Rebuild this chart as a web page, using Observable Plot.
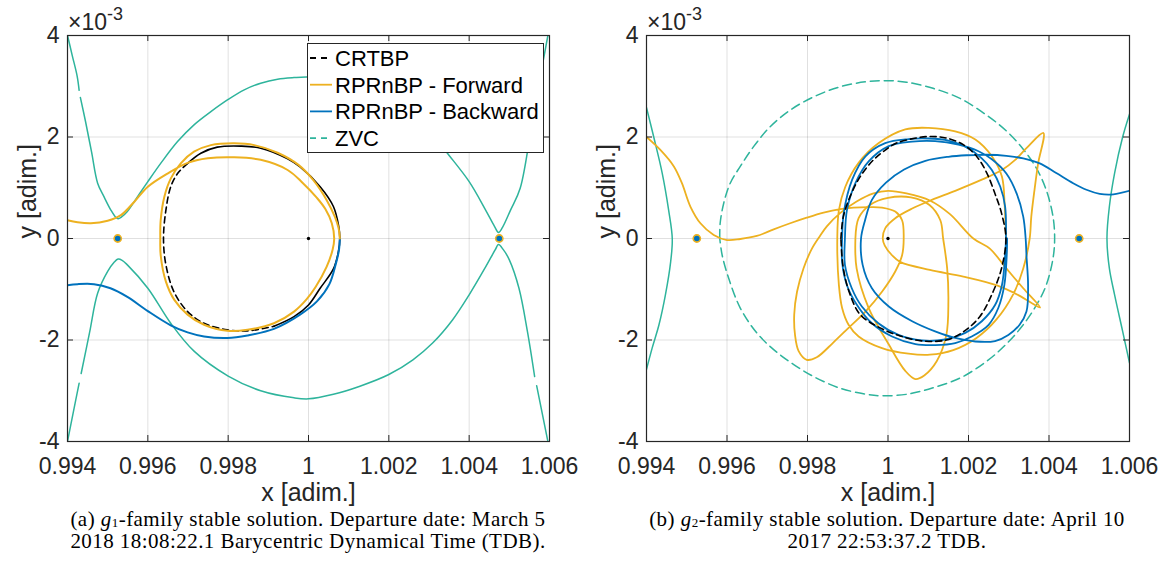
<!DOCTYPE html>
<html><head><meta charset="utf-8">
<script src="https://cdn.jsdelivr.net/npm/d3@7"></script>
<script src="https://cdn.jsdelivr.net/npm/@observablehq/plot@0.6"></script>
<style>
body{margin:0;background:#fff;}
#wrap{position:relative;width:1174px;height:571px;overflow:hidden;background:#fff;}
.panel{position:absolute;top:0;}
.cap{position:absolute;top:508px;font-family:"Liberation Serif","DejaVu Serif",serif;font-size:21px;letter-spacing:0.45px;line-height:22px;text-align:center;color:#000;white-space:nowrap;}
.cap sub{font-size:13px;position:relative;top:1px;vertical-align:baseline;line-height:0;}
</style></head><body>
<div id="wrap">
  <div id="pa" class="panel" style="left:0px"></div>
  <div id="pb" class="panel" style="left:580px"></div>
  <div class="cap" style="left:0px;width:616px">(a) <i>g</i><sub>1</sub>-family stable solution. Departure date: March 5<br>2018 18:08:22.1 Barycentric Dynamical Time (TDB).</div>
  <div class="cap" style="left:580px;width:614px">(b) <i>g</i><sub>2</sub>-family stable solution. Departure date: April 10<br>2017 22:53:37.2 TDB.</div>
</div>
<script>
// ---------- shared ----------
const xTicks = [0.994, 0.996, 0.998, 1, 1.002, 1.004, 1.006];
const yTicks = [-4, -2, 0, 2, 4];
const xLabel = "x [adim.]";
const yLabel = "y [adim.]";
const lagrangePts = [[0.99525, 0], [1.00475, 0]];
const primaryPt = [[1, 0]];
const legendLabels = ["CRTBP", "RPRnBP - Forward", "RPRnBP - Backward", "ZVC"];

const ORANGE = "#EDB120", BLUE = "#0072BD", ZVC = "#2EB49C", BLACK = "#000000";

// ---------- panel (a) data ----------
const aZvcUpper1 = [[0.994,4.0],[0.99412,3.6],[0.99424,3.2],[0.99429,2.92]];
const aZvcUpper2 = [[0.99432,2.78],[0.99445,2.3],[0.9946,1.7],[0.99475,1.09],[0.99491,0.82],[0.99508,0.56],[0.9952,0.42],[0.99526,0.39],[0.99534,0.42],[0.99549,0.53],[0.99574,0.82],[0.996,1.12],[0.99632,1.48],[0.99674,1.91],[0.99715,2.24],[0.99757,2.5],[0.998,2.74],[0.9984,2.93],[0.99881,3.06],[0.99923,3.14],[0.99964,3.17],[1.0,3.18],[1.00062,3.13],[1.00128,2.97],[1.002,2.73],[1.0026,2.43],[1.00309,2.07],[1.00342,1.72],[1.004,1.12],[1.00441,0.56],[1.00463,0.24],[1.00473,0.12],[1.00483,0.22],[1.00503,0.56],[1.00527,0.99],[1.00561,2.5],[1.00596,4.0]];
const aZvcLower1 = [[0.994,-4.0],[0.99415,-3.4],[0.99429,-2.85]];
const aZvcLower2 = [[0.99434,-2.66],[0.99455,-1.85],[0.99475,-1.08],[0.995,-0.65],[0.99516,-0.47],[0.99526,-0.405],[0.99536,-0.43],[0.99549,-0.52],[0.996,-0.98],[0.99657,-1.67],[0.99715,-2.22],[0.998,-2.71],[0.99881,-3.0],[0.99964,-3.14],[1.0,-3.16],[1.00062,-3.07],[1.00128,-2.91],[1.002,-2.68],[1.0026,-2.39],[1.00309,-2.06],[1.00359,-1.6],[1.004,-1.11],[1.00441,-0.56],[1.00465,-0.22],[1.00473,-0.12],[1.00485,-0.22],[1.005,-0.42],[1.00524,-0.98],[1.00545,-1.83],[1.00563,-2.72]];
const aZvcLower3 = [[1.00568,-2.9],[1.00596,-4.0]];
const aCrtbpDash = [[0.99699,1.48],[0.99674,1.28],[0.99657,1.02],[0.99645,0.56],[0.99639,0],[0.99645,-0.52],[0.99665,-1.05],[0.99699,-1.44],[0.9974,-1.67],[0.99798,-1.8],[0.99848,-1.82],[0.99914,-1.73]];
const aCrtbpSolid = [[0.99699,1.48],[0.99732,1.68],[0.99773,1.8],[0.99832,1.82],[0.99881,1.78],[0.99948,1.57],[0.99979,1.41],[1.00029,1.02],[1.00062,0.63],[1.00075,0.25],[1.00078,0],[1.00074,-0.28],[1.00062,-0.6],[1.00029,-0.98],[1.0,-1.31],[0.99964,-1.54],[0.99914,-1.73]];
const aForward = [[1.00078,0],[1.00075,0.2],[1.00066,0.42],[1.00045,0.76],[1.00012,1.15],[0.99975,1.45],[0.99923,1.69],[0.99865,1.84],[0.99815,1.875],[0.99757,1.84],[0.99715,1.71],[0.99682,1.48],[0.99657,1.18],[0.99641,0.82],[0.99632,0.36],[0.99631,0],[0.99632,-0.33],[0.99645,-0.85],[0.99666,-1.21],[0.99699,-1.5],[0.9974,-1.7],[0.99798,-1.82],[0.99848,-1.8],[0.99914,-1.67],[0.99964,-1.44],[0.99995,-1.2],[1.00018,-0.95],[1.00045,-0.56],[1.0006,-0.22],[1.00064,0],[1.00058,0.3],[1.00042,0.58],[1.00021,0.8],[0.99985,1.1],[0.99948,1.35],[0.99881,1.55],[0.99815,1.6],[0.99749,1.58],[0.99699,1.49],[0.99649,1.28],[0.996,1.02],[0.99566,0.72],[0.99533,0.46],[0.995,0.35],[0.99458,0.3],[0.99425,0.32],[0.994,0.36]];
const aBackward = [[1.00078,0],[1.00076,-0.22],[1.00068,-0.5],[1.00052,-0.9],[1.00021,-1.24],[0.99979,-1.5],[0.99914,-1.78],[0.99848,-1.91],[0.99798,-1.96],[0.9974,-1.93],[0.99699,-1.85],[0.99657,-1.71],[0.996,-1.43],[0.99549,-1.15],[0.99507,-0.98],[0.99466,-0.9],[0.99425,-0.9],[0.994,-0.92]];

// ---------- panel (b) data ----------
const bZvcLeft = [[0.994,2.58],[0.99418,2.0],[0.99439,1.29],[0.99455,0.56],[0.99464,0],[0.9946,-0.46],[0.99447,-1.11],[0.99431,-1.7],[0.99414,-2.16],[0.994,-2.58]];
const bZvcRight = [[1.006,2.45],[1.00583,2.0],[1.00563,1.29],[1.0055,0.63],[1.00544,0],[1.0055,-0.59],[1.00563,-1.11],[1.00583,-1.83],[1.006,-2.45]];
const bZvcOval = [[0.99582,0],[0.99583,0.3],[0.99592,0.7],[0.99608,1.09],[0.99633,1.42],[0.99666,1.81],[0.99707,2.2],[0.99757,2.53],[0.99815,2.79],[0.99881,2.99],[0.99947,3.09],[1.0,3.11],[1.00046,3.08],[1.00112,2.96],[1.00179,2.76],[1.00245,2.43],[1.00294,2.12],[1.00336,1.76],[1.00369,1.38],[1.00393,0.96],[1.0041,0.43],[1.00414,0],[1.0041,-0.39],[1.00393,-0.92],[1.00369,-1.31],[1.00336,-1.7],[1.00294,-2.08],[1.00245,-2.42],[1.00179,-2.75],[1.00112,-2.94],[1.00046,-3.07],[0.99985,-3.1],[0.99947,-3.07],[0.99881,-2.95],[0.99815,-2.72],[0.99765,-2.48],[0.99716,-2.19],[0.99674,-1.86],[0.99633,-1.37],[0.99604,-0.78],[0.99588,-0.33],[0.99582,0]];
const bCrtbp = [[0.99883,0],[0.99889,0.43],[0.99906,0.83],[0.99931,1.22],[0.99964,1.55],[1.0,1.78],[1.00021,1.88],[1.00063,1.97],[1.00104,2.01],[1.00145,1.98],[1.00187,1.85],[1.0022,1.62],[1.00245,1.3],[1.00265,0.9],[1.00282,0.5],[1.00293,0],[1.00282,-0.59],[1.00261,-1.05],[1.00228,-1.54],[1.00187,-1.84],[1.00145,-2.0],[1.00088,-2.02],[1.0003,-1.92],[0.99975,-1.74],[0.99931,-1.5],[0.99906,-1.11],[0.99889,-0.59],[0.99883,0]];
const bForward = [[1.00293,0],[1.0029,0.63],[1.00283,1.22],[1.00258,1.62],[1.00217,1.95],[1.00167,2.11],[1.00101,2.18],[1.00043,2.15],[0.99977,1.88],[0.99927,1.49],[0.99894,1.02],[0.99878,0.56],[0.99874,0],[0.99878,-0.92],[0.99886,-1.37],[0.99902,-1.7],[0.99927,-1.93],[0.99985,-2.16],[1.00051,-2.27],[1.00104,-2.29],[1.00162,-2.2],[1.0022,-1.96],[1.00269,-1.6],[1.00311,-1.1],[1.00336,-0.59],[1.00352,0],[1.00356,0.43],[1.00364,0.96],[1.00373,1.48],[1.00386,2.08],[1.00344,1.78],[1.00316,1.55],[1.00283,1.35],[1.00233,1.16],[1.00167,0.94],[1.00109,0.76],[1.0006,0.59],[1.00018,0.4],[0.99993,0.2],[0.99987,0],[0.99992,-0.14],[1.0001,-0.33],[1.0003,-0.46],[1.00104,-0.62],[1.00187,-0.75],[1.00269,-0.92],[1.00325,-1.12],[1.00378,-1.36],[1.00336,-0.98],[1.00294,-0.59],[1.00253,-0.2],[1.00212,0],[1.00154,0.48],[1.00104,0.75],[1.00046,0.89],[1.0,0.94],[0.99964,0.89],[0.99922,0.73],[0.99881,0.5],[0.99848,0.24],[0.99831,0.05],[0.99811,-0.2],[0.9979,-0.59],[0.99774,-1.05],[0.99767,-1.5],[0.99769,-1.9],[0.99778,-2.22],[0.99798,-2.39],[0.99823,-2.34],[0.99864,-2.05],[0.99902,-1.76],[0.99944,-1.44],[0.99985,-1.05],[1.00018,-0.65],[1.00035,-0.33],[1.00039,0],[1.00035,0.36],[1.00018,0.53],[0.99985,0.61],[0.99955,0.62],[0.99914,0.61],[0.99881,0.58],[0.9984,0.51],[0.99798,0.41],[0.99757,0.3],[0.99716,0.18],[0.99674,0.05],[0.99633,-0.01],[0.996,-0.03],[0.99567,0.07],[0.99534,0.3],[0.99509,0.63],[0.99488,1.09],[0.99468,1.42],[0.99435,1.74],[0.994,2.0]];
const bForwardLoop = [[0.99919,0],[0.99927,0.4],[0.99955,0.66],[1.0,0.8],[1.00057,0.81],[1.00103,0.66],[1.0013,0.36],[1.00137,0],[1.00147,-0.59],[1.0015,-1.24],[1.00145,-1.9],[1.00121,-2.42],[1.0009,-2.7],[1.00068,-2.77],[1.00043,-2.61],[1.00002,-2.09],[0.99952,-1.37],[0.99922,-0.59],[0.99919,0]];
const bBackward = [[1.006,0.94],[1.0056,0.87],[1.00526,0.88],[1.00493,0.96],[1.0046,1.09],[1.00418,1.29],[1.00377,1.48],[1.00336,1.58],[1.00294,1.63],[1.00245,1.65],[1.00195,1.64],[1.0015,1.61],[1.00093,1.53],[1.0004,1.36],[0.99995,1.1],[0.9996,0.76],[0.99943,0.36],[0.99933,0],[0.99937,-0.52],[0.9996,-0.98],[1.00002,-1.34],[1.0006,-1.63],[1.00117,-1.83],[1.00167,-1.96],[1.00217,-2.03],[1.00266,-2.02],[1.00299,-1.9],[1.00327,-1.7],[1.00344,-1.44],[1.00348,-0.92],[1.00344,-0.33],[1.00342,0],[1.00336,0.43],[1.0032,0.88],[1.00294,1.28],[1.00258,1.56],[1.00225,1.72],[1.00175,1.85],[1.00117,1.92],[1.0006,1.91],[1.00002,1.82],[0.99952,1.52],[0.99919,1.09],[0.99898,0.56],[0.99893,0],[0.99893,-0.52],[0.9991,-0.98],[0.99935,-1.34],[0.99976,-1.67],[1.00026,-1.9],[1.00084,-2.01],[1.00142,-1.99],[1.00192,-1.86],[1.00233,-1.63],[1.00266,-1.31],[1.00283,-0.92],[1.00291,-0.33],[1.00293,0],[1.00291,0.63],[1.00279,1.02],[1.00258,1.35],[1.00233,1.58],[1.00192,1.81],[1.0015,1.93],[1.00101,1.97],[1.00051,1.96],[0.99993,1.88],[0.99944,1.62],[0.99911,1.16],[0.9989,0.5],[0.99886,0],[0.99886,-0.46],[0.99898,-0.92],[0.99923,-1.31],[0.9996,-1.67],[1.0001,-1.93],[1.00068,-2.08],[1.00117,-2.1],[1.00167,-2.06],[1.00208,-1.93],[1.0025,-1.7],[1.00274,-1.37],[1.00289,-0.92],[1.00295,-0.33],[1.00296,0]];

// ---------- drawing ----------
const H = 510, MT = 35, MB = 69;
const fmtX = d => String(+d.toFixed(3));
const fmtY = d => String(d);
const L = (arr, o) => Plot.line(arr, {x: d => d[0], y: d => d[1], curve: "catmull-rom", clip: true, strokeLinejoin: "round", ...o});

function makePanel(width, ml, mr, lines) {
  const innerW = width - ml - mr, innerH = H - MT - MB;
  const marks = [
    Plot.gridX(xTicks, {stroke: "#000", strokeOpacity: 0.12, strokeWidth: 1}),
    Plot.gridY(yTicks, {stroke: "#000", strokeOpacity: 0.12, strokeWidth: 1}),
    ...lines,
    Plot.dot(lagrangePts, {x: d => d[0], y: d => d[1], r: 3.6, fill: BLUE, stroke: ORANGE, strokeWidth: 1.6}),
    Plot.dot(primaryPt, {x: d => d[0], y: d => d[1], r: 1.7, fill: BLACK}),
    Plot.frame({stroke: "#262626", strokeWidth: 1.2}),
    Plot.tickX(xTicks, {x: d => d, insetTop: innerH - 6, stroke: "#262626"}),
    Plot.tickX(xTicks, {x: d => d, insetBottom: innerH - 6, stroke: "#262626"}),
    Plot.tickY(yTicks, {y: d => d, insetRight: innerW - 6, stroke: "#262626"}),
    Plot.tickY(yTicks, {y: d => d, insetLeft: innerW - 6, stroke: "#262626"}),
    Plot.axisX(xTicks, {anchor: "bottom", tickSize: 0, tickPadding: 16, tickFormat: fmtX, label: null, fontSize: 23, fill: "#262626"}),
    Plot.axisY(yTicks, {anchor: "left", tickSize: 0, tickPadding: 8, tickFormat: fmtY, label: null, fontSize: 23, fill: "#262626"}),
    Plot.text([xLabel], {frameAnchor: "bottom", dy: 59, text: d => d, fontSize: 25, fill: "#262626"}),
    Plot.text([yLabel], {frameAnchor: "left", dx: -40, rotate: -90, text: d => d, fontSize: 25, fill: "#262626"})
  ];
  const svg = Plot.plot({
    width, height: H, marginLeft: ml, marginRight: mr, marginTop: MT, marginBottom: MB,
    x: {domain: [0.994, 1.006]},
    y: {domain: [-4, 4]},
    style: {fontFamily: '"Liberation Sans", Arial, Helvetica, sans-serif', fontSize: "23px", color: "#262626", background: "white", overflow: "visible"},
    marks
  });
  // exponent label ×10^-3
  const t = d3.select(svg).append("text")
    .attr("x", ml + 1).attr("y", 30)
    .attr("text-anchor", "start")
    .attr("font-family", '"Liberation Sans", Arial, sans-serif')
    .attr("font-size", 23).attr("fill", "#262626");
  t.append("tspan").text("×10");
  t.append("tspan").attr("dy", -10).attr("font-size", 18).text("-3");
  return svg;
}

const svgA = makePanel(580, 67, 31, [
  L(aZvcUpper1, {stroke: ZVC, strokeWidth: 1.5}),
  L(aZvcUpper2, {stroke: ZVC, strokeWidth: 1.5}),
  L(aZvcLower1, {stroke: ZVC, strokeWidth: 1.5}),
  L(aZvcLower2, {stroke: ZVC, strokeWidth: 1.5}),
  L(aZvcLower3, {stroke: ZVC, strokeWidth: 1.5}),
  L(aCrtbpDash, {stroke: BLACK, strokeWidth: 1.6, strokeDasharray: "6,4"}),
  L(aCrtbpSolid, {stroke: BLACK, strokeWidth: 1.6}),
  L(aBackward, {stroke: BLUE, strokeWidth: 2}),
  L(aForward, {stroke: ORANGE, strokeWidth: 2})
]);
document.getElementById("pa").appendChild(svgA);

// legend inside panel (a)
(function legend(svg) {
  const g = d3.select(svg).append("g").attr("text-anchor", "start");
  g.append("rect").attr("x", 307.5).attr("y", 43.5).attr("width", 236).attr("height", 109)
    .attr("fill", "white").attr("stroke", "#262626").attr("stroke-width", 1);
  const colors = [BLACK, ORANGE, BLUE, ZVC];
  const dashes = ["6,5", null, null, "6,5"];
  legendLabels.forEach((lab, i) => {
    const yy = 58 + i * 26.7;
    g.append("line").attr("x1", 310).attr("x2", 332).attr("y1", yy).attr("y2", yy)
      .attr("stroke", colors[i]).attr("stroke-width", 1.8).attr("stroke-dasharray", dashes[i]);
    g.append("text").attr("x", 335).attr("y", yy).attr("dy", "0.36em")
      .attr("text-anchor", "start")
      .attr("font-family", '"Liberation Sans", Arial, sans-serif').attr("font-size", 22)
      .attr("fill", "#000").text(lab);
  });
})(svgA);

const svgB = makePanel(594, 66, 45, [
  L(bZvcLeft, {stroke: ZVC, strokeWidth: 1.5}),
  L(bZvcRight, {stroke: ZVC, strokeWidth: 1.5}),
  L(bZvcOval, {stroke: ZVC, strokeWidth: 1.5, strokeDasharray: "9,5"}),
  L(bForward, {stroke: ORANGE, strokeWidth: 1.8}),
  L(bForwardLoop, {stroke: ORANGE, strokeWidth: 1.8}),
  L(bBackward, {stroke: BLUE, strokeWidth: 1.8}),
  L(bCrtbp, {stroke: BLACK, strokeWidth: 1.6, strokeDasharray: "6,4"})
]);
document.getElementById("pb").appendChild(svgB);
</script>
</body></html>
